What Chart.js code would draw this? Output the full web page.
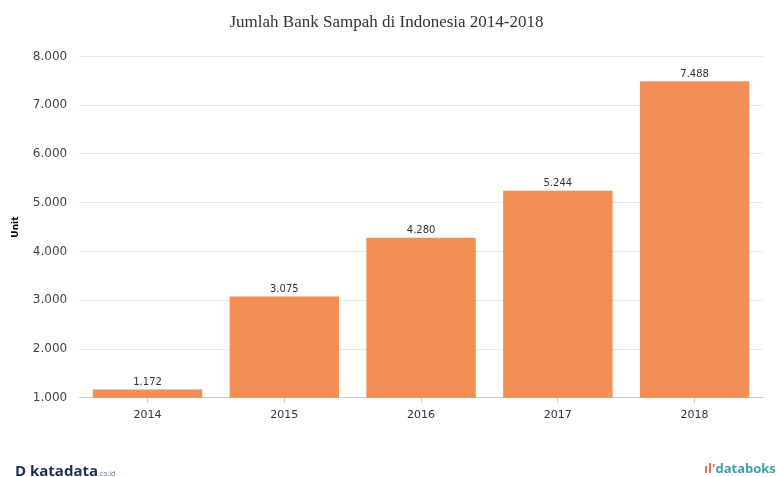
<!DOCTYPE html>
<html lang="id">
<head>
  <meta charset="UTF-8">
  <title>Jumlah Bank Sampah di Indonesia 2014-2018</title>
  <script src="https://cdn.jsdelivr.net/npm/chart.js"></script>
  <style>
    body { margin: 0; background: #fff; }
    #wrap { position: relative; width: 776px; height: 477px; }
    .logo { position: absolute; font-family: "Open Sans", Arial, sans-serif; font-weight: bold; }
    #kata { left: 15px; top: 460px; color: #1f2d52; font-size: 15px; }
    #kata small { font-size: 7px; font-weight: normal; color: #6a7390; }
    #boks { left: 704px; top: 459px; color: #3fa3a6; font-size: 13px; }
    #boks span { color: #ef6a4c; }
  </style>
</head>
<body>
  <div id="wrap">
    <canvas id="grafikBank" width="776" height="477"></canvas>
    <div class="logo" id="kata">D katadata<small>.co.id</small></div>
    <div class="logo" id="boks"><span>ıl'</span>databoks</div>
  </div>

  <script>
    const tahun = ['2014', '2015', '2016', '2017', '2018'];
    const jumlahBank = [1172, 3075, 4280, 5244, 7488];

    function formatTitik(v) {
      return v.toString().replace(/\B(?=(\d{3})+(?!\d))/g, '.');
    }

    // label nilai di atas batang
    const labelNilai = {
      id: 'labelNilai',
      afterDatasetsDraw(chart) {
        const ctx = chart.ctx;
        const meta = chart.getDatasetMeta(0);
        ctx.save();
        ctx.font = '10px "DejaVu Sans", Verdana, sans-serif';
        ctx.fillStyle = '#333';
        ctx.textAlign = 'center';
        ctx.textBaseline = 'bottom';
        meta.data.forEach((bar, i) => {
          ctx.fillText(formatTitik(jumlahBank[i]), bar.x, bar.y - 2);
        });
        ctx.restore();
      }
    };

    const ctx = document.getElementById('grafikBank').getContext('2d');
    new Chart(ctx, {
      type: 'bar',
      data: {
        labels: tahun,
        datasets: [{
          data: jumlahBank,
          backgroundColor: 'rgba(242,132,70,0.92)',
          borderWidth: 0,
          categoryPercentage: 0.8,
          barPercentage: 1
        }]
      },
      options: {
        responsive: false,
        animation: false,
        layout: { padding: { left: 10, right: 13, top: 0, bottom: 49 } },
        plugins: {
          legend: { display: false },
          tooltip: { enabled: false },
          title: {
            display: true,
            text: 'Jumlah Bank Sampah di Indonesia 2014-2018',
            color: '#333',
            font: { family: '"Liberation Serif", "Times New Roman", serif', size: 17, weight: 'normal' },
            padding: { top: 12, bottom: 24 }
          }
        },
        scales: {
          x: {
            grid: { display: true, drawOnChartArea: false, offset: false, tickLength: 5, color: '#ccc' },
            border: { color: '#ccc' },
            ticks: { color: '#333', font: { family: '"DejaVu Sans", Verdana, sans-serif', size: 11 }, padding: 6 }
          },
          y: {
            min: 1000,
            max: 8000,
            ticks: {
              stepSize: 1000,
              color: '#444',
              padding: 12,
              font: { family: '"DejaVu Sans", Verdana, sans-serif', size: 12 },
              callback: v => formatTitik(v)
            },
            grid: { color: '#e8e8e8', drawTicks: false },
            border: { display: false },
            title: {
              display: true,
              text: 'Unit',
              color: '#000',
              font: { family: '"DejaVu Sans", Verdana, sans-serif', size: 9, weight: 'bold' },
              padding: 0
            }
          }
        }
      },
      plugins: [labelNilai]
    });
  </script>
</body>
</html>
